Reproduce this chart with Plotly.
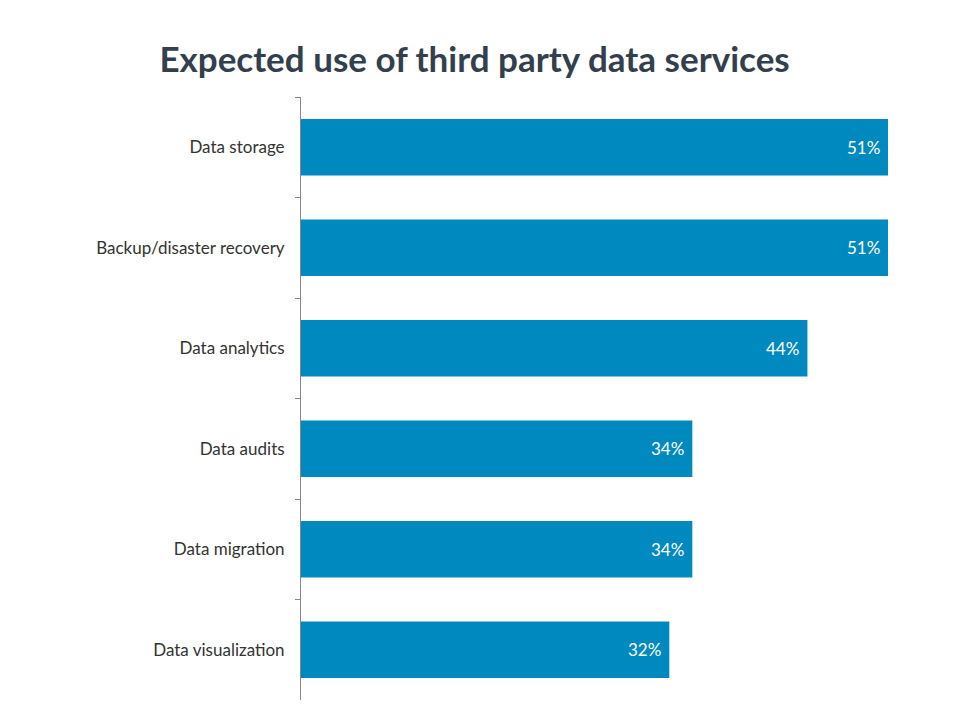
import plotly.graph_objects as go

categories = ["Data storage", "Backup/disaster recovery", "Data analytics",
              "Data audits", "Data migration", "Data visualization"]
values = [51, 51, 44, 34, 34, 32]
labels = [f"{v}%" for v in values]

fig = go.Figure(go.Bar(
    x=values, y=categories, orientation="h",
    marker=dict(color="#0089BF", line=dict(width=0)),
    hoverinfo="skip",
))

for v, c, t in zip(values, categories, labels):
    fig.add_annotation(x=v, y=c, text=t, showarrow=False, xanchor="right",
                       xshift=-6, yanchor="middle",
                       font=dict(family="Lato", size=17, color="white"))

fig.update_layout(
    width=960, height=720,
    paper_bgcolor="white", plot_bgcolor="white",
    margin=dict(l=293, r=80, t=89, b=28),
    bargap=0.44,
    showlegend=False,
    title=dict(text="<b>Expected use of third party data services</b>",
               x=0.486, xanchor="center", y=0.928, yanchor="middle",
               font=dict(family="Lato", size=35, color="#333F4C")),
    font=dict(family="Lato", size=17, color="#333333"),
)
fig.update_xaxes(range=[0, 51], visible=False, showgrid=False, zeroline=False)
fig.update_yaxes(autorange="reversed", categoryorder="array", categoryarray=categories,
                 showline=True, linecolor="#888888", linewidth=1,
                 ticks="outside", tickson="boundaries", ticklen=5, tickcolor="#888888",
                 ticklabelstandoff=12, showgrid=False,
                 tickfont=dict(family="Lato", size=17, color="#333333"))

fig.write_html("out.html")
